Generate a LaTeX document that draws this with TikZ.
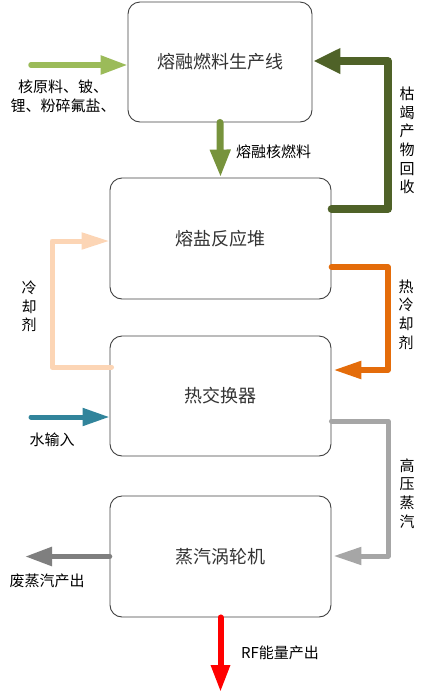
\documentclass[tikz,border=0pt]{standalone}
\usepackage{fontspec}
\setmainfont{Noto Sans CJK SC}
\usetikzlibrary{arrows.meta,calc}
\definecolor{cLG}{HTML}{9BBB59}
\definecolor{cOL}{HTML}{77933C}
\definecolor{cDG}{HTML}{4F6228}
\definecolor{cPE}{HTML}{FCD5B5}
\definecolor{cOR}{HTML}{E46C0A}
\definecolor{cTL}{HTML}{31849B}
\definecolor{cGY}{HTML}{A6A6A6}
\definecolor{cDY}{HTML}{7F7F7F}
\definecolor{cRD}{HTML}{FF0000}
\tikzset{
  box/.style={draw=black!75, line width=0.9pt, rounded corners=12pt,
    minimum width=221pt, minimum height=121pt, inner sep=0pt,
    text=black!80, font=\fontsize{18}{20}\selectfont},
  lbl/.style={inner sep=0pt, align=center, font=\fontsize{15}{18.6}\selectfont},
  flow/.style={line cap=round, line join=round},
}
\begin{document}
\begin{tikzpicture}[x=1pt,y=-1pt]
\useasboundingbox (0,0) rectangle (423,694);
% boxes
\node[box, minimum width=184pt, minimum height=120pt] (b1) at (220,62) {熔融燃料生产线};
\node[box] (b2) at (220.5,238.5) {熔盐反应堆};
\node[box, minimum height=120pt] (b3) at (220.5,396) {热交换器};
\node[box] (b4) at (220.5,556.5) {蒸汽涡轮机};
% coordinates
\coordinate (inG) at (31,65);
\coordinate (inGe) at ($(b1.west)+(0,3)$);
\coordinate (dgS) at ($(b2.east)+(0,-29.5)$);
\coordinate (dgA) at (388,209);
\coordinate (dgB) at (388,61);
\coordinate (dgE) at ($(b1.east)+(1,-1)$);
\coordinate (peS) at ($(b3.west)+(2,-29)$);
\coordinate (peA) at (52,367);
\coordinate (peB) at (52,241);
\coordinate (peE) at ($(b2.west)+(0,2.5)$);
\coordinate (orS) at ($(b2.east)+(0,28.5)$);
\coordinate (orA) at (388,267);
\coordinate (orB) at (388,370);
\coordinate (orE) at ($(b3.east)+(2,-26)$);
\coordinate (tlS) at (31,417);
\coordinate (tlE) at ($(b3.west)+(0,21)$);
\coordinate (gyS) at ($(b3.east)+(0,25)$);
\coordinate (gyA) at (388,421);
\coordinate (gyB) at (388,556);
\coordinate (gyE) at ($(b4.east)+(2,-0.5)$);
\coordinate (dyE) at (25,556.5);
\coordinate (rdE) at (220.5,692);
% connectors
\draw[flow, cLG, line width=5.5pt, -{Triangle[length=27pt,width=18pt]}] (inG) -- (inGe);
\draw[flow, cOL, line width=7pt, -{Triangle[length=28pt,width=19pt]}] (b1.south) -- (b2.north);
\draw[flow, cDG, line width=7.5pt, -{Triangle[length=27pt,width=24pt]}] (dgS) -- (dgA) -- (dgB) -- (dgE);
\draw[flow, cPE, line width=5pt, -{Triangle[length=28pt,width=16pt]}] (peS) -- (peA) -- (peB) -- (peE);
\draw[flow, cOR, line width=5.5pt, -{Triangle[length=28pt,width=17pt]}] (orS) -- (orA) -- (orB) -- (orE);
\draw[flow, cTL, line width=5pt, -{Triangle[length=27pt,width=17pt]}] (tlS) -- (tlE);
\draw[flow, cGY, line width=5pt, -{Triangle[length=28pt,width=17pt]}] (gyS) -- (gyA) -- (gyB) -- (gyE);
\draw[flow, cDY, line width=5.5pt, -{Triangle[length=27pt,width=18pt]}] (b4.west) -- (dyE);
\draw[flow, cRD, line width=6pt, -{Triangle[length=27pt,width=18pt]}] (b4.south) -- (rdE);
% labels
\node[lbl] (lIn) at (63,96.5) {核原料、铍、\\锂、粉碎氟盐、};
\node[lbl, anchor=west] (lFuel) at (236,152) {熔融核燃料};
\node[lbl] (lWaste) at (407,140.5) {枯\\竭\\产\\物\\回\\收};
\node[lbl] (lCool) at (29,306.5) {冷\\却\\剂};
\node[lbl] (lHot) at (406,314.5) {热\\冷\\却\\剂};
\node[lbl] (lWater) at (52,440) {水输入};
\node[lbl] (lSteam) at (407,493.5) {高\\压\\蒸\\汽};
\node[lbl] (lExh) at (47,581) {废蒸汽产出};
\node[lbl] (lRF) at (280,653) {RF能量产出};
\end{tikzpicture}
\end{document}
